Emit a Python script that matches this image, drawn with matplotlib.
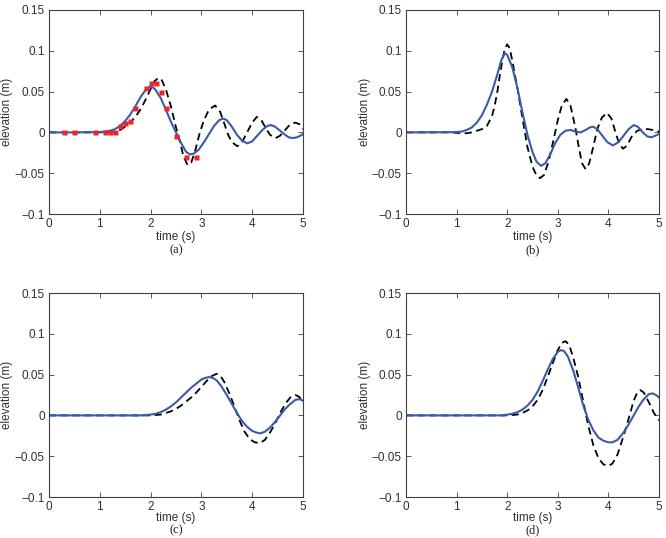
import matplotlib
matplotlib.use('Agg')
import matplotlib.pyplot as plt
from matplotlib.ticker import FixedLocator, FuncFormatter

# panel (a)
a_model_t = [0, 0.5, 1.0, 1.1, 1.2, 1.3, 1.4, 1.5, 1.6, 1.7, 1.8, 1.9, 1.98, 2.05, 2.1,
             2.2, 2.3, 2.4, 2.5, 2.6, 2.7, 2.78, 2.85, 2.95, 3.05, 3.15, 3.25, 3.35, 3.43,
             3.5, 3.6, 3.7, 3.8, 3.9, 4.0, 4.1, 4.2, 4.3, 4.37, 4.45, 4.55, 4.65, 4.72,
             4.8, 4.88, 4.95, 5.0]
a_model_y = [0, 0, 0.0005, 0.001, 0.002, 0.004, 0.008, 0.014, 0.022, 0.032, 0.043, 0.052,
             0.056, 0.055, 0.052, 0.042, 0.028, 0.013, 0.0, -0.013, -0.024, -0.027, -0.026,
             -0.021, -0.012, -0.002, 0.008, 0.015, 0.017, 0.015, 0.007, -0.003, -0.010,
             -0.0135, -0.011, -0.004, 0.003, 0.008, 0.009, 0.007, 0.002, -0.003, -0.006,
             -0.007, -0.006, -0.004, -0.002]
a_ref_t = [0, 1.0, 1.2, 1.3, 1.4, 1.5, 1.6, 1.7, 1.8, 1.9, 2.0, 2.08, 2.16, 2.22, 2.3,
           2.4, 2.5, 2.58, 2.65, 2.73, 2.8, 2.88, 2.97, 3.05, 3.15, 3.27, 3.37, 3.45, 3.52,
           3.6, 3.71, 3.8, 3.9, 4.0, 4.09, 4.18, 4.27, 4.35, 4.46, 4.55, 4.65, 4.75, 4.85,
           4.93, 5.0]
a_ref_y = [0, 0, 0.0005, 0.001, 0.003, 0.007, 0.012, 0.019, 0.028, 0.040, 0.053, 0.063,
           0.067, 0.064, 0.053, 0.032, 0.006, -0.012, -0.030, -0.040, -0.037, -0.022, 0.0,
           0.015, 0.028, 0.033, 0.025, 0.011, -0.002, -0.012, -0.017, -0.012, 0.0, 0.012,
           0.019, 0.015, 0.005, -0.003, -0.007, -0.004, 0.003, 0.010, 0.012, 0.010, 0.004]
a_meas_t = [0.3, 0.5, 0.9, 1.1, 1.2, 1.3, 1.4, 1.5, 1.6, 1.7, 1.9, 2.0, 2.1, 2.2, 2.3,
            2.5, 2.7, 2.9]
a_meas_y = [0, 0, 0, 0, 0, 0, 0.008, 0.011, 0.014, 0.030, 0.054, 0.060, 0.060, 0.050,
            0.030, -0.005, -0.030, -0.030]

# panel (b)
b_model_t = [0, 0.9, 1.0, 1.1, 1.2, 1.3, 1.4, 1.5, 1.6, 1.7, 1.8, 1.88, 1.95, 2.0, 2.1,
             2.2, 2.3, 2.4, 2.5, 2.58, 2.67, 2.75, 2.85, 2.95, 3.05, 3.15, 3.25, 3.35,
             3.45, 3.55, 3.63, 3.7, 3.78, 3.88, 3.98, 4.09, 4.2, 4.3, 4.4, 4.5, 4.58,
             4.68, 4.77, 4.85, 4.93, 5.0]
b_model_y = [0, 0.0003, 0.0005, 0.001, 0.003, 0.006, 0.012, 0.021, 0.034, 0.050, 0.070,
             0.088, 0.097, 0.095, 0.080, 0.055, 0.025, -0.003, -0.024, -0.036, -0.041,
             -0.038, -0.027, -0.013, -0.003, 0.002, 0.003, 0.001, 0.0, 0.003, 0.006,
             0.007, 0.004, -0.004, -0.012, -0.016, -0.012, -0.004, 0.004, 0.009, 0.007,
             0.0, -0.005, -0.006, -0.004, -0.002]
b_ref_t = [0, 0.9, 1.0, 1.1, 1.2, 1.3, 1.4, 1.5, 1.6, 1.7, 1.75, 1.8, 1.85, 1.9, 1.95,
           2.0, 2.05, 2.1, 2.2, 2.3, 2.4, 2.5, 2.58, 2.65, 2.73, 2.82, 2.92, 3.0, 3.08,
           3.17, 3.25, 3.35, 3.42, 3.48, 3.55, 3.62, 3.7, 3.78, 3.87, 3.97, 4.06, 4.14,
           4.22, 4.29, 4.37, 4.47, 4.57, 4.68, 4.78, 4.88, 5.0]
b_ref_y = [0, 0, -0.0005, -0.001, -0.001, 0.0, 0.002, 0.004, 0.008, 0.020, 0.032, 0.048,
           0.068, 0.087, 0.102, 0.108, 0.103, 0.088, 0.055, 0.018, -0.018, -0.042,
           -0.053, -0.056, -0.052, -0.035, -0.008, 0.015, 0.033, 0.041, 0.033, 0.005,
           -0.020, -0.038, -0.045, -0.038, -0.018, 0.004, 0.018, 0.024, 0.017, 0.0,
           -0.015, -0.020, -0.016, -0.004, 0.002, 0.004, 0.004, 0.003, 0.001]

# panel (c)
c_model_t = [0, 1.8, 2.0, 2.1, 2.2, 2.3, 2.4, 2.5, 2.6, 2.7, 2.8, 2.9, 3.0, 3.08, 3.15,
             3.22, 3.3, 3.4, 3.5, 3.6, 3.7, 3.8, 3.9, 4.0, 4.08, 4.16, 4.25, 4.35, 4.45,
             4.55, 4.65, 4.75, 4.85, 4.93, 5.0]
c_model_y = [0, 0, 0.001, 0.002, 0.004, 0.007, 0.011, 0.016, 0.022, 0.028, 0.034, 0.039,
             0.044, 0.046, 0.047, 0.046, 0.043, 0.035, 0.025, 0.014, 0.003, -0.007,
             -0.014, -0.019, -0.021, -0.022, -0.020, -0.015, -0.008, 0.0, 0.008, 0.014,
             0.019, 0.020, 0.018]
c_ref_t = [0, 2.0, 2.1, 2.2, 2.3, 2.4, 2.5, 2.6, 2.7, 2.8, 2.9, 3.0, 3.1, 3.2, 3.3, 3.38,
           3.45, 3.55, 3.65, 3.75, 3.85, 3.95, 4.05, 4.15, 4.25, 4.35, 4.45, 4.55, 4.65,
           4.75, 4.85, 4.92, 5.0]
c_ref_y = [0, 0, 0.0005, 0.001, 0.003, 0.005, 0.008, 0.012, 0.017, 0.022, 0.028, 0.035,
           0.042, 0.048, 0.051, 0.048, 0.041, 0.027, 0.011, -0.006, -0.020, -0.029,
           -0.033, -0.034, -0.030, -0.021, -0.010, 0.003, 0.014, 0.022, 0.025, 0.023,
           0.017]

# panel (d)
d_model_t = [0, 1.9, 2.0, 2.1, 2.2, 2.3, 2.4, 2.5, 2.6, 2.7, 2.8, 2.9, 3.0, 3.06, 3.12,
             3.2, 3.3, 3.4, 3.5, 3.6, 3.7, 3.8, 3.9, 4.0, 4.08, 4.18, 4.3, 4.4, 4.5, 4.6,
             4.7, 4.8, 4.87, 4.94, 5.0]
d_model_y = [0, 0, 0.001, 0.002, 0.004, 0.007, 0.012, 0.019, 0.029, 0.042, 0.056, 0.069,
             0.078, 0.080, 0.079, 0.072, 0.056, 0.035, 0.013, -0.005, -0.018, -0.027,
             -0.031, -0.033, -0.033, -0.030, -0.021, -0.011, 0.0, 0.011, 0.020, 0.026,
             0.027, 0.025, 0.022]
d_ref_t = [0, 2.0, 2.1, 2.2, 2.3, 2.4, 2.5, 2.6, 2.7, 2.8, 2.9, 3.0, 3.08, 3.15, 3.22,
           3.3, 3.4, 3.5, 3.6, 3.7, 3.8, 3.9, 4.0, 4.08, 4.18, 4.3, 4.4, 4.5, 4.57, 4.63,
           4.7, 4.8, 4.9, 5.0]
d_ref_y = [0, 0, 0.0005, 0.001, 0.003, 0.006, 0.011, 0.019, 0.031, 0.047, 0.064, 0.080,
           0.089, 0.091, 0.087, 0.072, 0.048, 0.018, -0.012, -0.036, -0.052, -0.060,
           -0.062, -0.059, -0.048, -0.025, -0.004, 0.018, 0.028, 0.031, 0.028, 0.016,
           0.003, -0.006]

y_ticks = [-0.1, -0.05, 0, 0.05, 0.1, 0.15]
x_ticks = [0, 1, 2, 3, 4, 5]

blue = '#3a5ba8'
frame = '#404040'

plt.rcParams['font.family'] = ['Liberation Sans', 'DejaVu Sans']
plt.rcParams['axes.unicode_minus'] = True

fig = plt.figure(figsize=(6.66, 5.38), dpi=100)

W, H = 666.0, 538.0
boxes = {
    'a': (49, 10, 303, 214),
    'b': (406, 10, 659, 214),
    'c': (49, 293, 303, 497),
    'd': (406, 293, 659, 497),
}
panels = {
    'a': (a_model_t, a_model_y, a_ref_t, a_ref_y),
    'b': (b_model_t, b_model_y, b_ref_t, b_ref_y),
    'c': (c_model_t, c_model_y, c_ref_t, c_ref_y),
    'd': (d_model_t, d_model_y, d_ref_t, d_ref_y),
}
# the lower row sits close to the bottom edge, so its labels are a bit tighter
xlabel_y = {'a': -0.085, 'b': -0.085, 'c': -0.072, 'd': -0.072}
caption_y = {'a': -0.178, 'b': -0.178, 'c': -0.163, 'd': -0.163}


def fmt(v, pos):
    s = '%g' % v
    return s.replace('-', '\u2212')


for key in ['a', 'b', 'c', 'd']:
    x0, y0, x1, y1 = boxes[key]
    ax = fig.add_axes([x0 / W, 1 - y1 / H, (x1 - x0) / W, (y1 - y0) / H])
    mt, my, rt, ry = panels[key]
    ax.plot(rt, ry, color='black', lw=1.3, ls=(0, (4, 2.5)))
    ax.plot(mt, my, color=blue, lw=1.5)
    if key == 'a':
        ax.plot(a_meas_t, a_meas_y, 's', color='#e8262b', ms=3.6, mec='none')
    ax.set_xlim(0, 5)
    ax.set_ylim(-0.1, 0.15)
    ax.xaxis.set_major_locator(FixedLocator(x_ticks))
    ax.yaxis.set_major_locator(FixedLocator(y_ticks))
    ax.yaxis.set_major_formatter(FuncFormatter(fmt))
    ax.tick_params(direction='in', length=3.5, width=0.6, colors=frame,
                   labelcolor='#303030', labelsize=8.5, top=True, right=True, pad=3)
    for sp in ax.spines.values():
        sp.set_color(frame)
        sp.set_linewidth(0.8)
    ax.set_xlabel('time (s)', fontsize=8.5, color='#303030')
    ax.xaxis.set_label_coords(0.5, xlabel_y[key])
    ax.set_ylabel('elevation (m)', fontsize=8.5, color='#303030')
    ax.yaxis.set_label_coords(-0.14, 0.5)
    ax.text(0.5, caption_y[key], '(%s)' % key, transform=ax.transAxes, ha='center',
            va='center', fontsize=9, family='Liberation Serif', color='#202020')

fig.savefig('out.png', dpi=100)
